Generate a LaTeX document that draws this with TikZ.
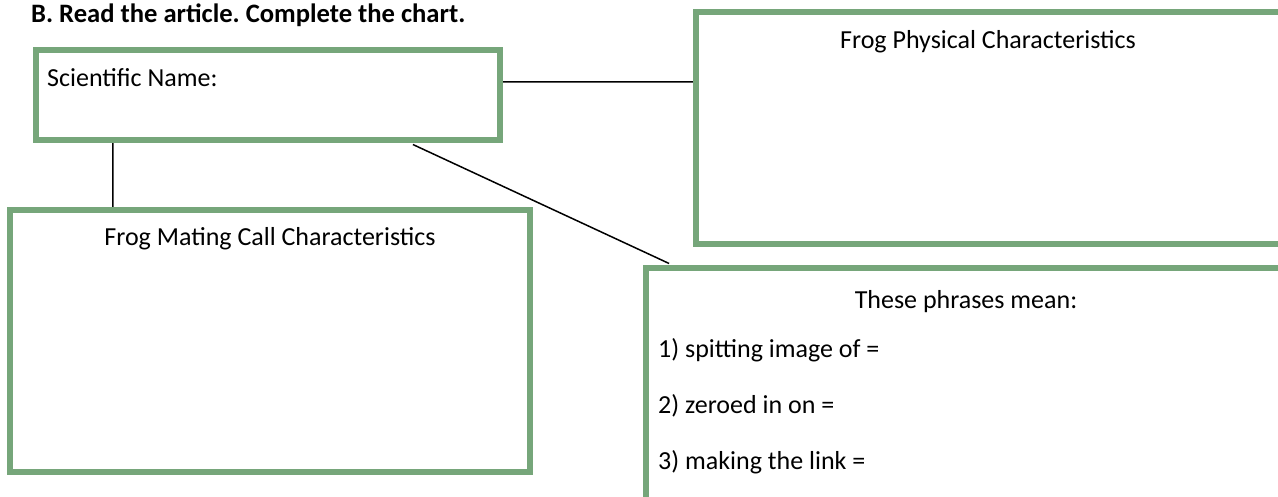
\documentclass[tikz,border=0pt]{standalone}
\usepackage{fontspec}
\setmainfont{Carlito}
\usepackage{tikz}
\usepackage{xcolor}
\definecolor{framegreen}{RGB}{118,166,122}
\frenchspacing

\begin{document}
\begin{tikzpicture}[x=1pt, y=-1pt,
        chartbox/.style={draw=framegreen, line width=6.3pt, inner sep=0pt},
        lbl/.style={inner sep=0pt, font=\fontsize{26}{30}\selectfont},
        link/.style={line width=1.5pt, shorten <=3.2pt, shorten >=3.2pt}]
                \clip (0,0) rectangle (1278,497);

                \node[lbl, anchor=base west, font=\fontsize{26.6}{31}\selectfont\bfseries] (head) at (31, 22.5) {B. Read the article. Complete the chart.};

                \node[chartbox, minimum width=464pt, minimum height=90pt] (s_box) at (268, 95) {};
                \node[chartbox, minimum width=590pt, minimum height=231.6pt] (p_box) at (991, 128) {};
                \node[chartbox, minimum width=520pt, minimum height=262pt] (m_box) at (270, 341) {};
                \node[chartbox, minimum width=640pt, minimum height=232pt] (t_box) at (966, 384) {};

                \node[lbl, anchor=base west] (s_lbl) at (47, 87) {Scientific Name:};
                \node[lbl, anchor=base] (p_lbl) at ([xshift=-3pt, yshift=-39pt]p_box.north) {Frog Physical Characteristics};
                \node[lbl, anchor=base] (m_lbl) at ([yshift=-39pt]m_box.north) {Frog Mating Call Characteristics};
                \node[lbl, anchor=base] (t_lbl) at ([yshift=-44pt]t_box.north) {These phrases mean:};
                \node[lbl, anchor=base west] (t_1) at (658, 357) {1) spitting image of =};
                \node[lbl, anchor=base west] (t_2) at (658, 413) {2) zeroed in on =};
                \node[lbl, anchor=base west] (t_3) at (658, 469) {3) making the link =};

                \draw[link]
                ([yshift=13pt]s_box.east) -- ([yshift=13pt]s_box.east -| p_box.west)
                ([xshift=80pt]s_box.south west) -- ([xshift=80pt]s_box.south west |- m_box.north)
                ([xshift=142pt]s_box.south) -- ([xshift=-294pt]t_box.north);
            \end{tikzpicture}
\end{document}
